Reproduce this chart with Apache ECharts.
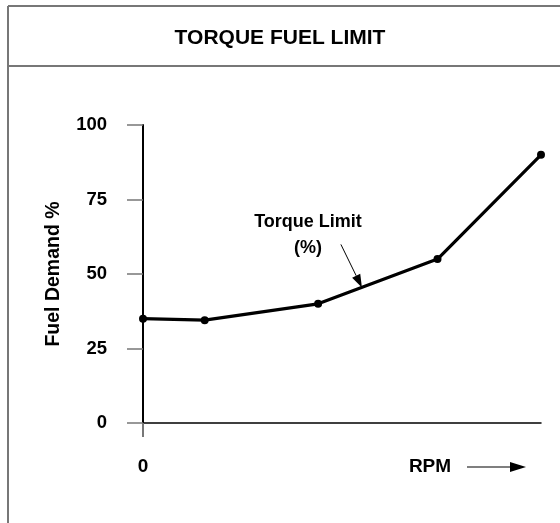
<!DOCTYPE html>
<html>
<head>
<meta charset="utf-8">
<script src="https://cdn.jsdelivr.net/npm/echarts@6/dist/echarts.min.js"></script>
<style>
  html, body { margin: 0; padding: 0; background: #fff; }
  #chart { width: 560px; height: 523px; }
</style>
</head>
<body>
<div id="chart"></div>
<script>
// Engine speed (relative, 0..100) and torque fuel limit (%)
const rpm = [0, 15.5, 44, 74, 100];
const fuelDemand = [35, 34.5, 40, 55, 90];
const yTicks = [0, 25, 50, 75, 100];

const titleText = 'TORQUE FUEL LIMIT';
const yName = 'Fuel Demand %';
const xName = 'RPM';
const noteLines = ['Torque Limit', '(%)'];
const notePoint = [55, 45.5];

const FONT = '"Liberation Sans", Arial, Helvetica, sans-serif';
const chart = echarts.init(document.getElementById('chart'));

const option = {
  animation: false,
  backgroundColor: '#fff',
  textStyle: { fontFamily: FONT },
  title: {
    text: titleText,
    left: 'center',
    top: 23,
    textStyle: { fontFamily: FONT, fontSize: 21, fontWeight: 'bold', color: '#000' }
  },
  grid: { left: 143, right: 19, top: 125, bottom: 100, containLabel: false },
  xAxis: {
    type: 'value',
    min: 0,
    max: 100,
    interval: 100,
    axisLine: { show: true, lineStyle: { color: '#000', width: 1.5 } },
    axisTick: { show: true, customValues: [0], length: 14, lineStyle: { color: '#777', width: 2 } },
    axisLabel: {
      customValues: [0],
      margin: 34,
      fontFamily: FONT, fontSize: 19, fontWeight: 'bold', color: '#000'
    },
    splitLine: { show: false }
  },
  yAxis: {
    type: 'value',
    min: 0,
    max: 100,
    interval: 25,
    name: yName,
    nameLocation: 'middle',
    nameGap: 79,
    nameRotate: 90,
    nameTextStyle: { fontFamily: FONT, fontSize: 19.5, fontWeight: 'bold', color: '#000' },
    axisLine: { show: true, lineStyle: { color: '#000', width: 2 } },
    axisTick: { show: true, inside: false, length: 16, lineStyle: { color: '#777', width: 1.5 } },
    axisLabel: {
      customValues: yTicks,
      margin: 36,
      fontFamily: FONT, fontSize: 18.5, fontWeight: 'bold', color: '#000'
    },
    splitLine: { show: false }
  },
  series: [{
    type: 'line',
    data: rpm.map((x, i) => [x, fuelDemand[i]]),
    symbol: 'circle',
    symbolSize: 8,
    lineStyle: { color: '#000', width: 3.2 },
    itemStyle: { color: '#000' },
    z: 5
  }]
};
chart.setOption(option);

// Frame, RPM arrow and the callout pointing at the curve
const tip = chart.convertToPixel({ gridIndex: 0 }, notePoint);
const tail = [tip[0] - 21, tip[1] - 43];
const ang = Math.atan2(tip[1] - tail[1], tip[0] - tail[0]);
const headLen = 13, headW = 4.5;
const bx = tip[0] - headLen * Math.cos(ang), by = tip[1] - headLen * Math.sin(ang);
const px = -Math.sin(ang) * headW, py = Math.cos(ang) * headW;

const axisY = chart.convertToPixel({ gridIndex: 0 }, [0, 0])[1];
const labelY = axisY + 44;

chart.setOption({
  graphic: [
    { type: 'line', shape: { x1: 8, y1: 6, x2: 8, y2: 523 }, style: { stroke: '#777', lineWidth: 2 } },
    { type: 'line', shape: { x1: 8, y1: 6, x2: 560, y2: 6 }, style: { stroke: '#777', lineWidth: 2 } },
    { type: 'line', shape: { x1: 8, y1: 66, x2: 560, y2: 66 }, style: { stroke: '#777', lineWidth: 2 } },
    {
      type: 'text', x: 430, y: labelY,
      style: { text: xName, font: 'bold 19px ' + FONT, fill: '#000', align: 'center', verticalAlign: 'middle' }
    },
    { type: 'line', shape: { x1: 467, y1: labelY, x2: 512, y2: labelY }, style: { stroke: '#000', lineWidth: 1.2 } },
    {
      type: 'polygon',
      shape: { points: [[526, labelY], [510, labelY - 5], [510, labelY + 5]] },
      style: { fill: '#000' }
    },
    {
      type: 'text', x: 308, y: 222,
      style: { text: noteLines[0], font: 'bold 18px ' + FONT, fill: '#000', align: 'center', verticalAlign: 'middle' }
    },
    {
      type: 'text', x: 308, y: 248,
      style: { text: noteLines[1], font: 'bold 18px ' + FONT, fill: '#000', align: 'center', verticalAlign: 'middle' }
    },
    { type: 'line', shape: { x1: tail[0], y1: tail[1], x2: bx, y2: by }, style: { stroke: '#000', lineWidth: 1 } },
    {
      type: 'polygon',
      shape: { points: [[tip[0], tip[1]], [bx + px, by + py], [bx - px, by - py]] },
      style: { fill: '#000' }
    }
  ]
});
</script>
</body>
</html>
